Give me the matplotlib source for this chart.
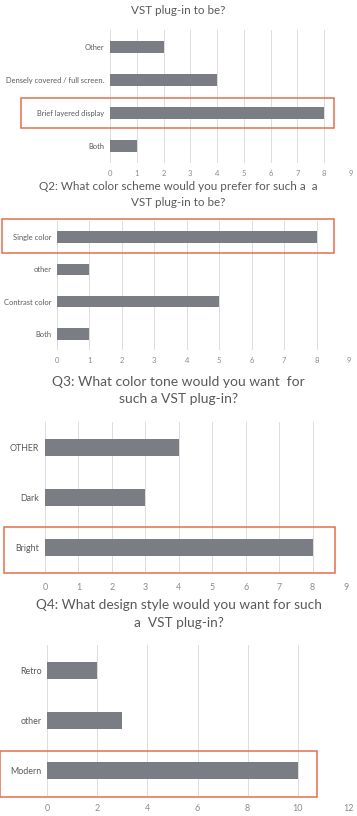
import matplotlib
matplotlib.use("Agg")
import matplotlib.pyplot as plt
from matplotlib.patches import Rectangle
from matplotlib.transforms import blended_transform_factory

plt.rcParams['font.family'] = ['Lato', 'DejaVu Sans']

# ---- data ----
q1_title = ["VST plug-in to be?"]
q1_cats = ["Both", "Brief layered display", "Densely covered / full screen.", "Other"]
q1_vals = [1, 8, 4, 2]
q1_ticks = [0, 1, 2, 3, 4, 5, 6, 7, 8, 9]
q1_hi = "Brief layered display"

q2_title = ["Q2: What color scheme would you prefer for such a  a", "VST plug-in to be?"]
q2_cats = ["Both", "Contrast color", "other", "Single color"]
q2_vals = [1, 5, 1, 8]
q2_ticks = [0, 1, 2, 3, 4, 5, 6, 7, 8, 9]
q2_hi = "Single color"

q3_title = ["Q3: What color tone would you want  for", "such a VST plug-in?"]
q3_cats = ["Bright", "Dark", "OTHER"]
q3_vals = [8, 3, 4]
q3_ticks = [0, 1, 2, 3, 4, 5, 6, 7, 8, 9]
q3_hi = "Bright"

q4_title = ["Q4: What design style would you want for such", "a  VST plug-in?"]
q4_cats = ["Modern", "other", "Retro"]
q4_vals = [10, 3, 2]
q4_ticks = [0, 2, 4, 6, 8, 10, 12]
q4_hi = "Modern"

W, H = 357, 816
fig = plt.figure(figsize=(W / 100, H / 100), dpi=100)

BAR = "#7b7d85"
GRID = "#dcdcdc"
TXT = "#595959"
RED = "#e2704f"


def px_axes(x0, x1, ytop, ybot):
    return fig.add_axes([x0 / W, 1 - ybot / H, (x1 - x0) / W, (ybot - ytop) / H])


def panel(rect, cats, vals, ticks, hi, barh, box_x, box_dy, lab_fs, tick_fs, pad_t):
    ax = px_axes(*rect)
    ypos = list(range(len(cats)))
    ax.barh(ypos, vals, height=barh, color=BAR, zorder=3)
    ax.set_xlim(ticks[0], ticks[-1])
    ax.set_ylim(-0.5, len(cats) - 0.5)
    ax.set_xticks(ticks)
    ax.set_xticklabels([str(t) for t in ticks], fontsize=tick_fs, color="#8a8a8a")
    ax.set_yticks(ypos)
    ax.set_yticklabels(cats, fontsize=lab_fs, color=TXT)
    ax.tick_params(length=0, axis='x', pad=pad_t)
    ax.tick_params(length=0, axis='y', pad=4)
    for s in ax.spines.values():
        s.set_visible(False)
    ax.xaxis.grid(True, color=GRID, linewidth=0.7, zorder=0)
    ax.set_axisbelow(True)
    i = cats.index(hi)
    tr = blended_transform_factory(fig.transFigure, ax.transData)
    ax.add_patch(Rectangle((box_x[0] / W, i - box_dy[0]), (box_x[1] - box_x[0]) / W,
                           box_dy[0] + box_dy[1], transform=tr, fill=False,
                           edgecolor=RED, linewidth=1.1, clip_on=False, zorder=5))
    return ax


def title(lines, ys, fs):
    for t, y in zip(lines, ys):
        fig.text(0.5, 1 - y / H, t, ha='center', va='center',
                 fontsize=fs, color=TXT)


# Q1
title(q1_title, [11], 8.4)
panel((110, 351, 30, 163), q1_cats, q1_vals, q1_ticks, q1_hi, 0.36,
      (21, 334), (0.44, 0.44), 5.4, 5.5, 5)

# Q2
title(q2_title, [187, 203], 8.4)
panel((57, 349, 221, 350), q2_cats, q2_vals, q2_ticks, q2_hi, 0.36,
      (2, 334), (0.50, 0.55), 5.4, 5.5, 5)

# Q3
title(q3_title, [382, 399], 10)
panel((45, 346, 422, 573), q3_cats, q3_vals, q3_ticks, q3_hi, 0.34,
      (4, 335), (0.50, 0.42), 6.4, 6.4, 7)

# Q4
title(q4_title, [605, 623], 9.8)
panel((47, 348, 645, 796), q4_cats, q4_vals, q4_ticks, q4_hi, 0.34,
      (0, 317), (0.52, 0.40), 6.4, 6.4, 6)

fig.savefig("out.png", dpi=100, facecolor="white")
